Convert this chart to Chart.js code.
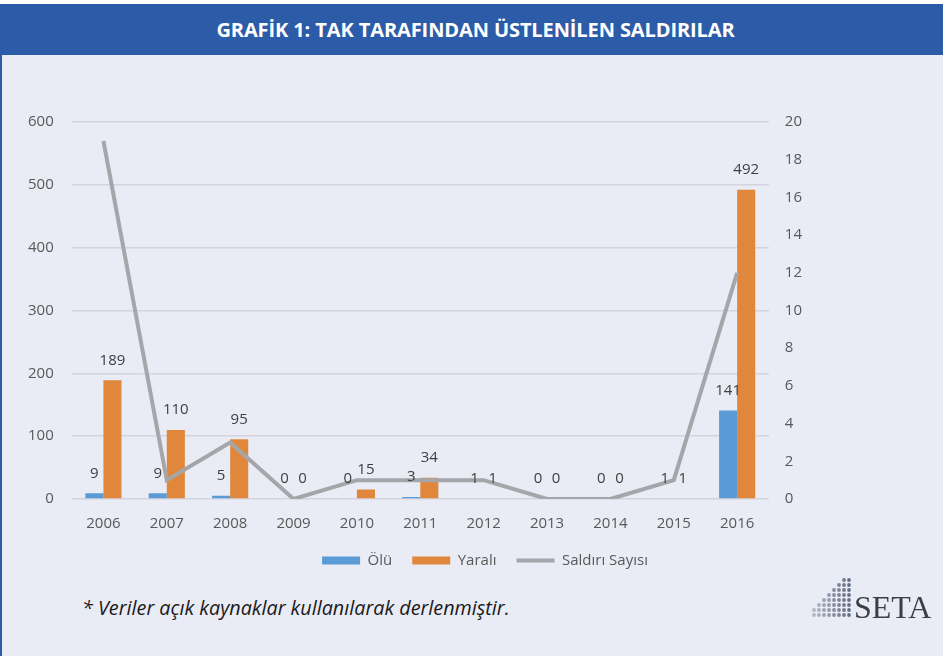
<!DOCTYPE html>
<html lang="tr">
<head>
<meta charset="utf-8">
<title>Grafik 1</title>
<script src="https://cdn.jsdelivr.net/npm/chart.js"></script>
<style>
  html, body { margin: 0; padding: 0; background: #fff; }
  body { width: 943px; height: 656px; position: relative; overflow: hidden; font-family: "Open Sans", sans-serif; }
  .panel { position: absolute; left: 0; top: 4px; width: 943px; height: 652px; background: #e9ebf5; border-left: 2px solid #2c5ca8; box-sizing: border-box; }
  .header { position: absolute; left: 0; top: 4px; width: 943px; height: 51px; background: #2c5ca8; color: #fff;
            font-family: "Open Sans", sans-serif; font-weight: bold; font-size: 20px;
            text-align: center; line-height: 51px; letter-spacing: -0.1px; padding-left: 8px; box-sizing: border-box; }
  .chart-box { position: absolute; left: 0; top: 95px; width: 943px; height: 483px; }
  .note { position: absolute; left: 82px; top: 594px; font-style: italic; font-size: 19.8px; color: #1a1a1a; }
  .logo { position: absolute; left: 808px; top: 568px; }
</style>
</head>
<body>
<div class="panel"></div>
<div class="header">GRAFİK 1: TAK TARAFINDAN ÜSTLENİLEN SALDIRILAR</div>
<div class="chart-box"><canvas id="saldiriChart"></canvas></div>
<div class="note">* Veriler açık kaynaklar kullanılarak derlenmiştir.</div>
<svg class="logo" width="135" height="60" viewBox="0 0 135 60">
  <g id="dots" fill="#5e6a7e"></g>
  <text x="46" y="50" font-family="Liberation Serif, serif" font-size="32" fill="#3a3f4a">SETA</text>
</svg>

<script>
// yillar ve seriler
const yillar = ["2006", "2007", "2008", "2009", "2010", "2011", "2012", "2013", "2014", "2015", "2016"];
const olu = [9, 9, 5, 0, 0, 3, 1, 0, 0, 1, 141];
const yarali = [189, 110, 95, 0, 15, 34, 1, 0, 0, 1, 492];
const saldiriSayisi = [19, 1, 3, 0, 1, 1, 1, 0, 0, 1, 12];

/* === SETA logo noktalari === */
const dotsG = document.getElementById("dots");
for (let c = 0; c < 8; c++) {
  const rows = Math.min(8, 2 + c);
  for (let r = 0; r < rows; r++) {
    const d = document.createElementNS("http://www.w3.org/2000/svg", "circle");
    d.setAttribute("cx", 6 + c * 5);
    d.setAttribute("cy", 47 - r * 5);
    d.setAttribute("r", 1.9);
    d.setAttribute("opacity", 0.4 + c * 0.08);
    dotsG.appendChild(d);
  }
}

/* === Degerleri cubuklarin ustune yaz === */
const barLabels = {
  id: "barLabels",
  afterDatasetsDraw(chart) {
    const ctx = chart.ctx;
    ctx.save();
    ctx.font = "15px 'Open Sans', sans-serif";
    ctx.fillStyle = "#404040";
    ctx.textAlign = "center";
    ctx.textBaseline = "middle";
    [0, 1].forEach((i) => {
      const meta = chart.getDatasetMeta(i);
      meta.data.forEach((bar, j) => {
        ctx.fillText(chart.data.datasets[i].data[j], bar.x, bar.y - 20);
      });
    });
    ctx.restore();
  }
};

// legendi biraz saga kaydir (orijinaldeki gibi)
const legendShift = {
  id: "legendShift",
  afterLayout(chart) {
    if (chart.legend) {
      chart.legend.left += 75;
      chart.legend.right += 75;
    }
  }
};

const tickFont = { family: "'Open Sans', sans-serif", size: 15 };

const ctx = document.getElementById("saldiriChart").getContext("2d");
new Chart(ctx, {
  type: "bar",
  data: {
    labels: yillar,
    datasets: [
      {
        label: "Ölü",
        data: olu,
        backgroundColor: "#5b9bd5",
        pointStyle: "rect",
        yAxisID: "y",
        order: 2
      },
      {
        label: "Yaralı",
        data: yarali,
        backgroundColor: "#e0873b",
        pointStyle: "rect",
        yAxisID: "y",
        order: 2
      },
      {
        type: "line",
        label: "Saldırı Sayısı",
        data: saldiriSayisi,
        borderColor: "#a5a6aa",
        backgroundColor: "#a5a6aa",
        borderWidth: 4,
        pointRadius: 0,
        pointStyle: "line",
        tension: 0,
        yAxisID: "y1",
        order: 1
      }
    ]
  },
  options: {
    responsive: true,
    maintainAspectRatio: false,
    animation: false,
    datasets: {
      bar: { barPercentage: 1, categoryPercentage: 0.57 }
    },
    layout: { padding: { top: 16, left: 10, right: 133, bottom: 0 } },
    scales: {
      x: {
        grid: { display: false },
        border: { display: false },
        ticks: { color: "#595959", font: tickFont, padding: 8 },
        afterFit(scale) { scale.height -= 8; }
      },
      y: {
        position: "left",
        min: 0,
        max: 600,
        ticks: { stepSize: 100, color: "#595959", font: tickFont, padding: 18 },
        grid: { color: "#d3d4de", lineWidth: 1.5, drawTicks: false },
        border: { display: false }
      },
      y1: {
        position: "right",
        min: 0,
        max: 20,
        ticks: { stepSize: 2, color: "#595959", font: tickFont, padding: 8 },
        grid: { display: false },
        border: { display: false }
      }
    },
    plugins: {
      legend: {
        position: "bottom",
        labels: {
          usePointStyle: true,
          pointStyleWidth: 38,
          boxHeight: 8,
          padding: 20,
          color: "#595959",
          font: tickFont,
          sort: (a, b) => a.datasetIndex - b.datasetIndex
        }
      },
      tooltip: { enabled: false }
    }
  },
  plugins: [barLabels, legendShift]
});
</script>
</body>
</html>
